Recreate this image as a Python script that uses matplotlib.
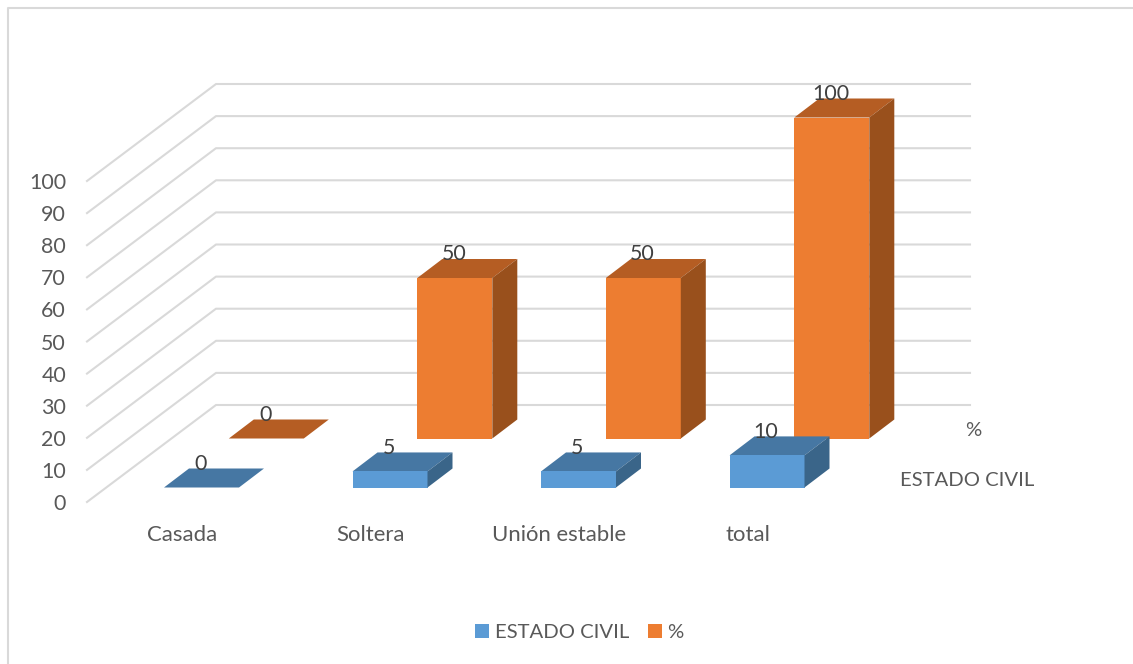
import matplotlib
matplotlib.use("Agg")
import matplotlib.pyplot as plt
from matplotlib.patches import Polygon, Rectangle

plt.rcParams['font.family'] = ['Lato', 'DejaVu Sans']

categories = ['Casada', 'Soltera', 'Unión estable', 'total']
estado_civil = [0, 5, 5, 10]
porcentaje = [0, 50, 50, 100]
yticks = list(range(0, 101, 10))
series_names = ['ESTADO CIVIL', '%']

# pixel layout of the fake 3d box
W, H = 1133, 664
Y0 = 502.0
PX_PER_UNIT = 3.21
LEFT_X = 87
WALL_DX, WALL_DY = 129, -97
WALL_RIGHT = 970
CAT_STEP = 188.5
BAR_W = 75
BAR_DX, BAR_DY = 25, -19

# each series: x of the first bar, y of the bar base, colours front/top/side
S1 = dict(x0=164, base=487.5, front='#5b9bd5', top='#4677a3', side='#3a6589')
S2 = dict(x0=228.8, base=438.5, front='#ed7d31', top='#b55d23', side='#99501c')

fig = plt.figure(figsize=(W / 100, H / 100), dpi=100)
ax = fig.add_axes([0, 0, 1, 1])
ax.set_xlim(0, W)
ax.set_ylim(H, 0)
ax.axis('off')

GRID = '#d9d9d9'
TXT = '#595959'
LBL = '#404040'
FS_NUM = 15.4
FS_CAT = 15.9
FS_CAPS = 14.6

# chart frame, only top and left show in the crop
ax.plot([8, 8, W], [H, 8, 8], color=GRID, lw=1.5)

# gridlines: slanted on the side wall, flat on the back wall
for v in yticks:
    y = Y0 - v * PX_PER_UNIT
    ax.plot([LEFT_X, LEFT_X + WALL_DX, WALL_RIGHT], [y, y + WALL_DY, y + WALL_DY],
            color=GRID, lw=1.5, zorder=1)
    ax.text(66, y + 2, str(v), ha='right', va='center', color=TXT, fontsize=FS_NUM)


def bar(x, base, val, s, z):
    h = val * PX_PER_UNIT
    top = base - h
    ax.add_patch(Polygon([(x, top), (x + BAR_W, top), (x + BAR_W + BAR_DX, top + BAR_DY), (x + BAR_DX, top + BAR_DY)],
                         fc=s['top'], ec='none', zorder=z))
    if val > 0:
        ax.add_patch(Rectangle((x, top), BAR_W, h, fc=s['front'], ec='none', zorder=z))
        ax.add_patch(Polygon([(x + BAR_W, top), (x + BAR_W + BAR_DX, top + BAR_DY),
                              (x + BAR_W + BAR_DX, base + BAR_DY), (x + BAR_W, base)],
                             fc=s['side'], ec='none', zorder=z))
    ax.text(x + BAR_W / 2 - 1, top + BAR_DY - 4.5, str(val), ha='center', va='center',
            color=LBL, fontsize=FS_NUM, zorder=10)


for i in range(len(categories)):
    bar(S2['x0'] + i * CAT_STEP, S2['base'], porcentaje[i], S2, 3)
for i in range(len(categories)):
    bar(S1['x0'] + i * CAT_STEP, S1['base'], estado_civil[i], S1, 4)

for i, c in enumerate(categories):
    ax.text(182 + i * CAT_STEP, 535, c, ha='center', va='center', color=TXT, fontsize=FS_CAT)

# series axis labels
ax.text(973, 431, series_names[1], ha='center', va='center', color=TXT, fontsize=FS_CAPS)
ax.text(967, 481, series_names[0], ha='center', va='center', color=TXT, fontsize=FS_CAPS)

# legend
ax.add_patch(Rectangle((475, 624), 14, 14, fc=S1['front'], ec='none'))
ax.text(495, 632, series_names[0], ha='left', va='center', color=TXT, fontsize=FS_CAPS)
ax.add_patch(Rectangle((648, 624), 14, 14, fc=S2['front'], ec='none'))
ax.text(667, 632, series_names[1], ha='left', va='center', color=TXT, fontsize=FS_CAPS)

fig.savefig('out.png', dpi=100)
